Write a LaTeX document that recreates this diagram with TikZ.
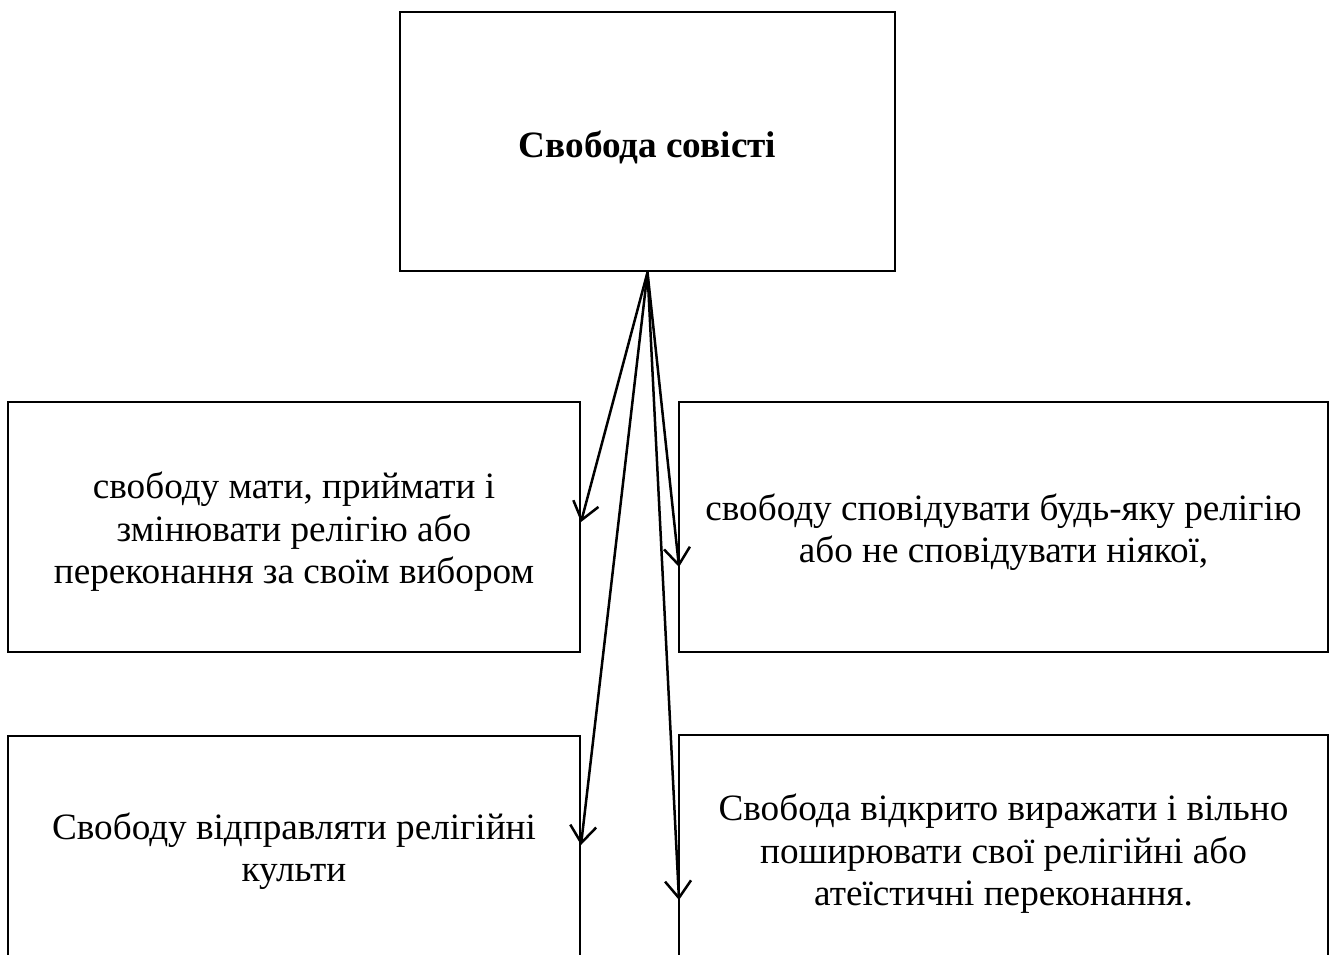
\documentclass[tikz,border=0pt]{standalone}
\usepackage{fontspec}
\setmainfont{Liberation Serif}
\usetikzlibrary{arrows.meta}
\begin{document}
\begin{tikzpicture}[x=1pt,y=-1pt,
  box/.style={draw,line width=2.5pt,rectangle,inner sep=0pt},
  txt/.style={inner sep=0pt,align=center,font=\fontsize{37.2}{42.5}\selectfont},
  conn/.style={line width=2.5pt,-{Straight Barb[length=17pt,width=26pt,line width=2.5pt]}}]
\useasboundingbox (0,0) rectangle (1330,954);
\clip (0,0) rectangle (1330,954);
\node[box,minimum width=495pt,minimum height=259pt,
  label={[txt,font=\fontsize{37.2}{42.5}\selectfont\bfseries,yshift=-5.5pt]center:Свобода совісті}] (top) at (647.5,141.5) {};
\node[box,minimum width=572pt,minimum height=250pt,
  label={[txt,yshift=-5pt]center:{свободу мати, приймати і\\змінювати релігію або\\переконання за своїм вибором}}] (l1) at (294,527) {};
\node[box,minimum width=649pt,minimum height=250pt,
  label={[txt,yshift=-5pt]center:{свободу сповідувати будь-яку релігію\\або не сповідувати ніякої,}}] (r1) at (1003.5,527) {};
\node[box,minimum width=572pt,minimum height=224pt,
  label={[txt,yshift=-3pt]center:{Свободу відправляти релігійні\\культи}}] (l2) at (294,848) {};
\node[box,minimum width=649pt,minimum height=224pt,
  label={[txt,yshift=-7pt]center:{Свобода відкрито виражати і вільно\\поширювати свої релігійні або\\атеїстичні переконання.}}] (r2) at (1003.5,847) {};
\coordinate (e1) at (581,522);
\coordinate (e2) at (679,567);
\coordinate (e3) at (581,845);
\coordinate (e4) at (679,900);
\draw[conn] (top.south) -- (e1);
\draw[conn] (top.south) -- (e2);
\draw[conn] (top.south) -- (e3);
\draw[conn] (top.south) -- (e4);
\end{tikzpicture}
\end{document}
